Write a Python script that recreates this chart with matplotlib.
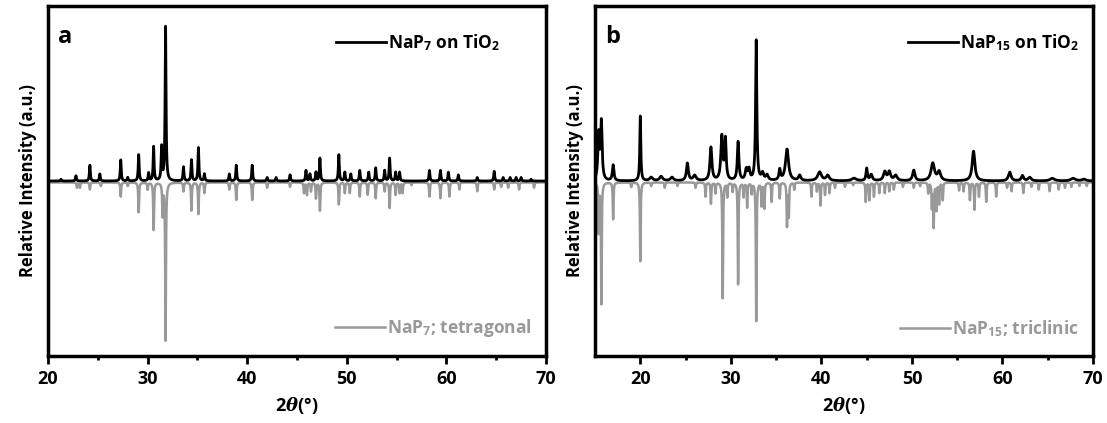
import numpy as np
import matplotlib.pyplot as plt

plt.rcParams['font.family'] = ['Open Sans', 'DejaVu Sans']
plt.rcParams['font.weight'] = 'bold'
plt.rcParams['axes.labelweight'] = 'bold'
plt.rcParams['mathtext.fontset'] = 'custom'
plt.rcParams['mathtext.rm'] = 'Open Sans:bold'
plt.rcParams['mathtext.bf'] = 'Open Sans:bold'
plt.rcParams['mathtext.it'] = 'DejaVu Serif:italic'

# ---- data: peak position (deg 2theta), relative height ----
# panel a, measured NaP7 on TiO2
a_meas_pos = [21.3, 22.8, 24.2, 25.2, 27.3, 28.0, 29.1, 30.1, 30.6, 31.4, 31.8,
              33.6, 34.4, 35.1, 35.7, 38.2, 38.9, 40.5, 42.0, 42.9, 44.3, 45.9,
              46.3, 46.9, 47.3, 49.2, 49.8, 50.4, 51.3, 52.2, 52.9, 53.8, 54.3,
              54.9, 55.3, 58.3, 59.4, 60.2, 61.2, 63.1, 64.8, 65.7, 66.4, 67.0,
              67.5, 68.5]
a_meas_int = [0.01, 0.03, 0.09, 0.04, 0.12, 0.02, 0.15, 0.045, 0.195, 0.19, 0.88,
              0.08, 0.12, 0.19, 0.04, 0.04, 0.09, 0.09, 0.02, 0.02, 0.035, 0.06,
              0.04, 0.05, 0.13, 0.15, 0.05, 0.04, 0.06, 0.05, 0.075, 0.06, 0.13,
              0.05, 0.05, 0.06, 0.06, 0.05, 0.035, 0.02, 0.055, 0.02, 0.02, 0.02,
              0.02, 0.01]
# panel a, reference NaP7 tetragonal
a_ref_pos = [22.9, 23.2, 24.2, 25.3, 27.3, 28.0, 29.1, 30.0, 30.6, 31.5, 31.8,
             33.6, 34.4, 35.1, 35.7, 38.2, 38.9, 40.5, 42.0, 44.3, 45.7, 46.0,
             46.4, 46.9, 47.3, 49.2, 49.8, 50.3, 51.3, 52.1, 52.9, 53.8, 54.3,
             54.9, 55.3, 55.6, 56.5, 58.3, 59.4, 60.3, 61.3, 63.1, 64.8, 65.5,
             66.2, 67.3, 68.8]
a_ref_int = [0.03, 0.03, 0.04, 0.02, 0.08, 0.02, 0.17, 0.04, 0.27, 0.18, 0.90,
             0.05, 0.16, 0.18, 0.06, 0.04, 0.10, 0.10, 0.03, 0.025, 0.06, 0.07,
             0.05, 0.09, 0.16, 0.125, 0.06, 0.06, 0.08, 0.07, 0.09, 0.05, 0.145,
             0.07, 0.06, 0.06, 0.015, 0.08, 0.09, 0.08, 0.04, 0.05, 0.04, 0.025,
             0.03, 0.04, 0.03]

# panel b, measured NaP15 on TiO2 (position, height, peak width)
b_meas_pos = [15.4, 15.7, 17.0, 20.0, 21.2, 22.3, 23.5, 25.2, 26.0, 27.8, 29.0,
              29.4, 30.8, 31.7, 32.0, 32.8, 33.5, 34.0, 35.4, 36.2, 37.6, 39.8,
              40.7, 43.6, 45.0, 45.5, 47.0, 47.5, 48.2, 50.2, 52.3, 53.0, 56.8,
              60.8, 62.2, 63.0, 65.5, 67.8, 69.0]
b_meas_int = [0.26, 0.33, 0.09, 0.37, 0.02, 0.025, 0.02, 0.10, 0.03, 0.19, 0.25,
              0.23, 0.22, 0.06, 0.06, 0.80, 0.04, 0.03, 0.06, 0.18, 0.03, 0.05,
              0.03, 0.015, 0.07, 0.035, 0.05, 0.05, 0.03, 0.06, 0.10, 0.05, 0.17,
              0.05, 0.03, 0.02, 0.015, 0.015, 0.01]
b_meas_wid = [0.2, 0.2, 0.2, 0.13, 0.4, 0.4, 0.4, 0.25, 0.4, 0.25, 0.25,
              0.2, 0.2, 0.25, 0.25, 0.16, 0.3, 0.3, 0.2, 0.4, 0.3, 0.5,
              0.4, 0.6, 0.18, 0.3, 0.35, 0.35, 0.4, 0.3, 0.45, 0.4, 0.35,
              0.35, 0.3, 0.4, 0.6, 0.6, 0.5]
# panel b, reference NaP15 triclinic
b_ref_pos = [15.4, 15.7, 17.0, 19.0, 20.0, 21.2, 22.7, 24.1, 26.1, 27.2, 27.8,
             28.3, 29.1, 29.6, 30.2, 30.8, 31.4, 31.8, 32.3, 32.8, 33.4, 33.7,
             34.5, 35.4, 36.2, 36.4, 37.0, 38.9, 39.5, 39.9, 40.4, 40.9, 41.5,
             42.6, 43.5, 44.9, 45.3, 45.8, 46.4, 47.0, 47.5, 48.0, 49.0, 50.2,
             50.9, 51.8, 52.2, 52.4, 52.7, 53.0, 53.4, 55.2, 55.7, 56.4, 56.9,
             57.4, 58.2, 59.3, 60.5, 61.0, 62.3, 63.2, 64.0, 65.2, 66.2, 66.9,
             67.6, 68.5, 69.3]
b_ref_int = [0.28, 0.69, 0.21, 0.025, 0.45, 0.02, 0.03, 0.02, 0.03, 0.08, 0.12,
             0.06, 0.66, 0.08, 0.05, 0.58, 0.08, 0.14, 0.06, 0.79, 0.13, 0.145,
             0.11, 0.09, 0.245, 0.19, 0.04, 0.08, 0.05, 0.13, 0.07, 0.06, 0.03,
             0.025, 0.015, 0.11, 0.10, 0.08, 0.06, 0.06, 0.05, 0.04, 0.025, 0.03,
             0.02, 0.06, 0.14, 0.25, 0.155, 0.12, 0.10, 0.045, 0.05, 0.10, 0.155,
             0.08, 0.11, 0.08, 0.03, 0.05, 0.06, 0.025, 0.04, 0.05, 0.04, 0.03,
             0.025, 0.02, 0.02]


def pattern(x, pos, inten, wid):
    # sum of Lorentzian peaks
    y = np.zeros_like(x)
    for p, h, w in zip(pos, inten, wid):
        y += h / (1 + ((x - p) / (w / 2)) ** 2)
    return y


x = np.arange(15, 70.001, 0.005)
panels = [
    dict(xlim=(20, 70), tag='a', leg_x=0.935,
         meas=(a_meas_pos, a_meas_int, [0.11] * len(a_meas_pos)),
         ref=(a_ref_pos, a_ref_int, [0.09] * len(a_ref_pos)),
         lab1='NaP$_7$ on TiO$_2$', lab2='NaP$_7$; tetragonal'),
    dict(xlim=(15, 70), tag='b', leg_x=1.0,
         meas=(b_meas_pos, b_meas_int, b_meas_wid),
         ref=(b_ref_pos, b_ref_int, [0.09] * len(b_ref_pos)),
         lab1='NaP$_{15}$ on TiO$_2$', lab2='NaP$_{15}$; triclinic'),
]

fig = plt.figure(figsize=(11.07, 4.23), dpi=100)
lefts = [0.0434, 0.5375]
widths = [0.4498, 0.4499]
gray = '#999999'

for p, l, w in zip(panels, lefts, widths):
    ax = fig.add_axes([l, 0.158, w, 0.828])
    m = (x >= p['xlim'][0])
    ym = pattern(x[m], *p['meas'])
    yr = pattern(x[m], *p['ref'])
    ax.plot(x[m], -yr - 0.008, color=gray, lw=1.8, zorder=2, label=p['lab2'])
    ax.plot(x[m], ym, color='black', lw=2.0, zorder=3, label=p['lab1'])
    ax.set_xlim(*p['xlim'])
    ax.set_ylim(-1, 1)
    ax.set_yticks([])
    ax.set_xticks(np.arange(20, 71, 10))
    ax.set_xticks(np.arange(25, 70, 10), minor=True)
    ax.tick_params(axis='x', which='major', length=6, width=2, labelsize=13, pad=4)
    ax.tick_params(axis='x', which='minor', length=3, width=2)
    for s in ax.spines.values():
        s.set_linewidth(2.5)
    ax.set_xlabel(r'2$\mathit{\theta}$(°)', fontsize=13, labelpad=5)
    ax.set_ylabel('Relative Intensity (a.u.)', fontsize=12, labelpad=8)
    ax.text(0.02, 0.91, p['tag'], transform=ax.transAxes, fontsize=17,
            fontweight='bold', va='center', ha='left')
    h = ax.get_legend_handles_labels()[0]
    leg1 = ax.legend([h[1]], [p['lab1']], loc='upper right', frameon=False,
                     prop={'size': 12.5, 'weight': 'bold'}, handlelength=2.9,
                     handletextpad=0.1, borderaxespad=0.4,
                     bbox_to_anchor=(p['leg_x'], 0.965))
    ax.add_artist(leg1)
    leg2 = ax.legend([h[0]], [p['lab2']], loc='lower right', frameon=False,
                     prop={'size': 12.5, 'weight': 'bold'}, handlelength=2.9,
                     handletextpad=0.1, borderaxespad=0.4,
                     bbox_to_anchor=(1.0, 0.01))
    for t in leg2.get_texts():
        t.set_color(gray)

fig.savefig('out.png', dpi=100)
